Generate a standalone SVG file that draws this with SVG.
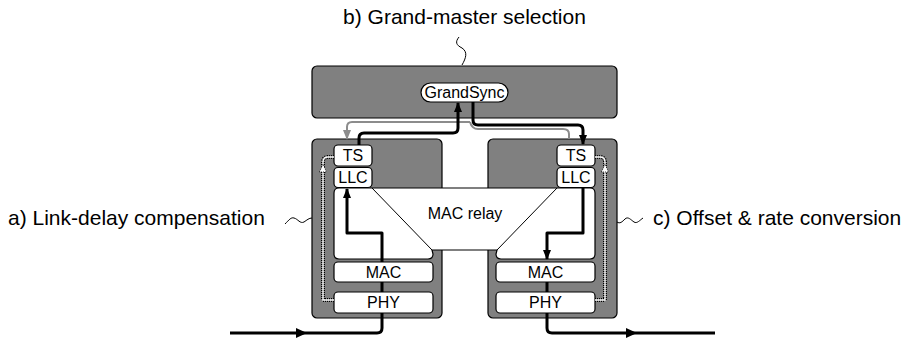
<svg xmlns="http://www.w3.org/2000/svg" width="905" height="339" viewBox="0 0 905 339">
<style>
.lbl{font-family:"Liberation Sans",Arial,sans-serif;font-size:21px;fill:#000}
.t{font-family:"Liberation Sans",Arial,sans-serif;font-size:16px;fill:#000;text-anchor:middle}
.st{fill:#808080;stroke:#000;stroke-width:1.2}
.wb{fill:#fff;stroke:#000;stroke-width:1.2}
.thick{fill:none;stroke:#000;stroke-width:3;stroke-linejoin:round}
.gray{fill:none;stroke:#8c8c8c;stroke-width:2}
.sq{fill:none;stroke:#000;stroke-width:1}
.dotb{fill:none;stroke:#000;stroke-width:4;stroke-dasharray:1 1}
.dotw{fill:none;stroke:#fff;stroke-width:1.4}
</style>
<defs>
<marker id="ah" markerWidth="10" markerHeight="10" refX="9" refY="5" orient="auto" markerUnits="userSpaceOnUse"><path d="M0,1 L10,5 L0,9 Z" fill="#000"/></marker>
<marker id="ahg" markerWidth="10" markerHeight="10" refX="9" refY="5" orient="auto" markerUnits="userSpaceOnUse"><path d="M0,1 L10,5 L0,9 Z" fill="#8c8c8c"/></marker>
</defs>
<text class="lbl" x="464.5" y="24" text-anchor="middle">b) Grand-master selection</text>
<text class="lbl" x="8" y="225">a) Link-delay compensation</text>
<text class="lbl" x="653" y="225">c) Offset &amp; rate conversion</text>
<g id="squiggles">
<path class="sq" d="M459 37 C455 42,456 45,462 48 C468 52,466 58,462 65"/>
<path class="sq" d="M285 224 C289 220,291 217,294 218 C298 219,300 224,304 222 C307 220,309 218,312 218"/>
<path class="sq" d="M617 222 C620 224,622 222,625 219 C628 216,631 220,634 222 C637 224,640 220,643 218"/>
</g>
<g id="grandmaster">
<rect class="st" x="312" y="66" width="305" height="52" rx="5"/>
<rect class="wb" x="421" y="83" width="87" height="19" rx="9.5"/>
<text class="t" x="464.5" y="98">GrandSync</text>
</g>
<g id="station-left">
<rect class="st" x="312" y="139" width="130" height="179" rx="5"/>
</g>
<g id="station-right">
<rect class="st" x="488" y="139" width="129" height="179" rx="5"/>
</g>
<g id="connectors-lower">
<path class="thick" d="M230 333 L377 333 Q382 333 382 328 L382 259"/>
<path d="M296 328 L307 333 L296 338 Z" fill="#000"/>
<path class="thick" d="M547 262 L547 328 Q547 333 552 333 L715 333"/>
<path d="M626 328 L637 333 L626 338 Z" fill="#000"/>
</g>
<g id="left-mac"><rect class="wb" x="334" y="262" width="99" height="20" rx="4"/><text class="t" x="383.5" y="277.5">MAC</text></g>
<g id="left-phy"><rect class="wb" x="334" y="292" width="99" height="21" rx="4"/><text class="t" x="383.5" y="308">PHY</text></g>
<g id="right-mac"><rect class="wb" x="496" y="262" width="99" height="20" rx="4"/><text class="t" x="545.5" y="277.5">MAC</text></g>
<g id="right-phy"><rect class="wb" x="496" y="292" width="99" height="21" rx="4"/><text class="t" x="545.5" y="308">PHY</text></g>
<g id="mac-relay">
<path class="wb" d="M334 193 Q334 188 339 188 L590 188 Q595 188 595 193 L595 254 Q595 259 590 259 L501 259 Q496 259 496 254 L497 250 L432 250 L433 254 Q433 259 428 259 L339 259 Q334 259 334 254 Z"/>
<path class="sq" d="M372 188 L432 250 M557 188 L497 250"/>
<text class="t" x="465" y="219">MAC relay</text>
</g>
<g id="left-ts"><rect class="wb" x="334" y="145" width="38" height="21" rx="4"/><text class="t" x="353" y="161">TS</text></g>
<g id="left-llc"><rect class="wb" x="334" y="167.5" width="38" height="20" rx="4"/><text class="t" x="353" y="183">LLC</text></g>
<g id="right-ts"><rect class="wb" x="557" y="145" width="38" height="21" rx="4"/><text class="t" x="576" y="161">TS</text></g>
<g id="right-llc"><rect class="wb" x="557" y="167.5" width="38" height="20" rx="4"/><text class="t" x="576" y="183">LLC</text></g>
<g id="connectors">
<path class="gray" d="M470 122 L352 122 Q347 122 347 127 L347 139" marker-end="url(#ahg)"/>
<path class="gray" d="M470 122 Q472 129 478 129 L563 129 Q569 129 569 134 L569 139"/>
<path class="thick" d="M359 145 L359 138 Q359 133 364 133 L453 133 Q458 133 458 128 L458 103" marker-end="url(#ah)"/>
<path class="thick" d="M473 102 L473 120 Q473 125 478 125 L578 125 Q583 125 583 130 L583 144" marker-end="url(#ah)"/>
<path class="thick" d="M382 259 L382 233 L347 233 L347 189" marker-end="url(#ah)"/>
<path class="thick" d="M583 188 L583 233 L547 233 L547 259" marker-end="url(#ah)"/>
<path class="dotb" d="M334 300 L323 300 L323 162 Q323 157 328 157 L334 157"/>
<path class="dotw" d="M334 300 L323 300 L323 162 Q323 157 328 157 L334 157"/>
<path d="M319.5 172 L323 164 L326.5 172 Z" fill="#fff" stroke="#000" stroke-width="0.8" stroke-dasharray="1 1"/>
<path class="dotb" d="M595 300 L605 300 L605 162 Q605 157 600 157 L595 157"/>
<path class="dotw" d="M595 300 L605 300 L605 162 Q605 157 600 157 L595 157"/>
<path d="M601.5 172 L605 164 L608.5 172 Z" fill="#fff" stroke="#000" stroke-width="0.8" stroke-dasharray="1 1"/>
</g>
</svg>
